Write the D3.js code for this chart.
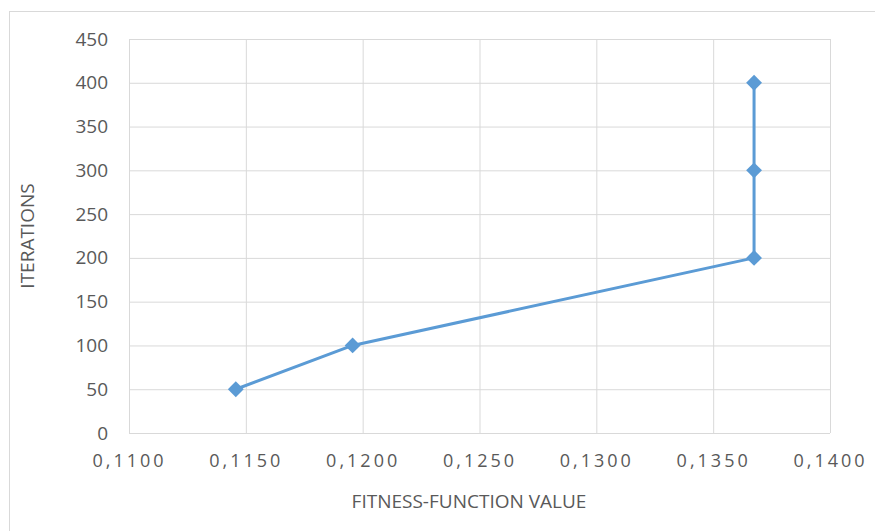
<!DOCTYPE html>
<html>
<head>
<meta charset="utf-8">
<script src="https://cdn.jsdelivr.net/npm/d3@7"></script>
<style>
  html, body { margin: 0; padding: 0; background: #fff; }
  svg { display: block; }
  text { font-family: "Open Sans", "Noto Sans", sans-serif; fill: #595959; }
</style>
</head>
<body>
<svg id="chart" width="875" height="531"></svg>
<script>
// Fitness-function value reached after each number of iterations
const fitnessValues = [0.11457, 0.11957, 0.13675, 0.13675, 0.13675];
const iterations = [50, 100, 200, 300, 400];

const xTicks = [0.110, 0.115, 0.120, 0.125, 0.130, 0.135, 0.140];
const yTicks = [0, 50, 100, 150, 200, 250, 300, 350, 400, 450];

const xTitle = "FITNESS-FUNCTION VALUE";
const yTitle = "ITERATIONS";

const W = 875, H = 531;
const plot = { left: 129, right: 830, top: 39, bottom: 433 };

const svg = d3.select("#chart");

// outer chart frame (only top and left edges fall inside the view)
svg.append("rect")
  .attr("x", 9.5).attr("y", 11.5)
  .attr("width", W + 20).attr("height", H + 20)
  .attr("fill", "#fff")
  .attr("stroke", "#d9d9d9").attr("stroke-width", 1);

const x = d3.scaleLinear().domain([0.110, 0.140]).range([plot.left, plot.right]);
const y = d3.scaleLinear().domain([0, 450]).range([plot.bottom, plot.top]);

const fmtX = v => d3.format(".4f")(v).replace(".", ",");

// vertical gridlines + x tick labels
const xAxis = d3.axisBottom(x)
  .tickValues(xTicks)
  .tickSize(-(plot.bottom - plot.top))
  .tickPadding(21)
  .tickFormat(fmtX);

const gx = svg.append("g")
  .attr("transform", `translate(0,${plot.bottom})`)
  .call(xAxis);
gx.select(".domain").remove();
gx.selectAll(".tick line").attr("stroke", "#d9d9d9").attr("stroke-width", 1);
gx.selectAll(".tick text")
  .attr("fill", "#595959")
  .style("font-size", "18px")
  .style("letter-spacing", "3px")
  .style("font-family", "\"Open Sans\", sans-serif");

// horizontal gridlines + y tick labels
const yAxis = d3.axisLeft(y)
  .tickValues(yTicks)
  .tickSize(-(plot.right - plot.left))
  .tickPadding(21)
  .tickFormat(d3.format("d"));

const gy = svg.append("g")
  .attr("transform", `translate(${plot.left},0)`)
  .call(yAxis);
gy.select(".domain").remove();
gy.selectAll(".tick line").attr("stroke", "#d9d9d9").attr("stroke-width", 1);
gy.selectAll(".tick text")
  .attr("fill", "#595959")
  .style("font-size", "19px")
  .style("font-family", "\"Open Sans\", sans-serif");

// series line
const pts = fitnessValues.map((v, i) => [v, iterations[i]]);
svg.append("path")
  .datum(pts)
  .attr("fill", "none")
  .attr("stroke", "#5b9bd5")
  .attr("stroke-width", 3)
  .attr("stroke-linejoin", "round")
  .attr("d", d3.line().x(d => x(d[0])).y(d => y(d[1])));

// diamond markers
svg.append("g").selectAll("path")
  .data(pts)
  .join("path")
  .attr("transform", d => `translate(${x(d[0])},${y(d[1])})`)
  .attr("d", d3.symbol().type(d3.symbolDiamond2).size(160))
  .attr("fill", "#5b9bd5");

// axis titles
svg.append("text")
  .attr("x", 469)
  .attr("y", 508)
  .attr("text-anchor", "middle")
  .style("font-size", "19px")
  .text(xTitle);

svg.append("text")
  .attr("transform", `translate(34,236) rotate(-90)`)
  .attr("text-anchor", "middle")
  .style("font-size", "19px")
  .text(yTitle);
</script>
</body>
</html>
